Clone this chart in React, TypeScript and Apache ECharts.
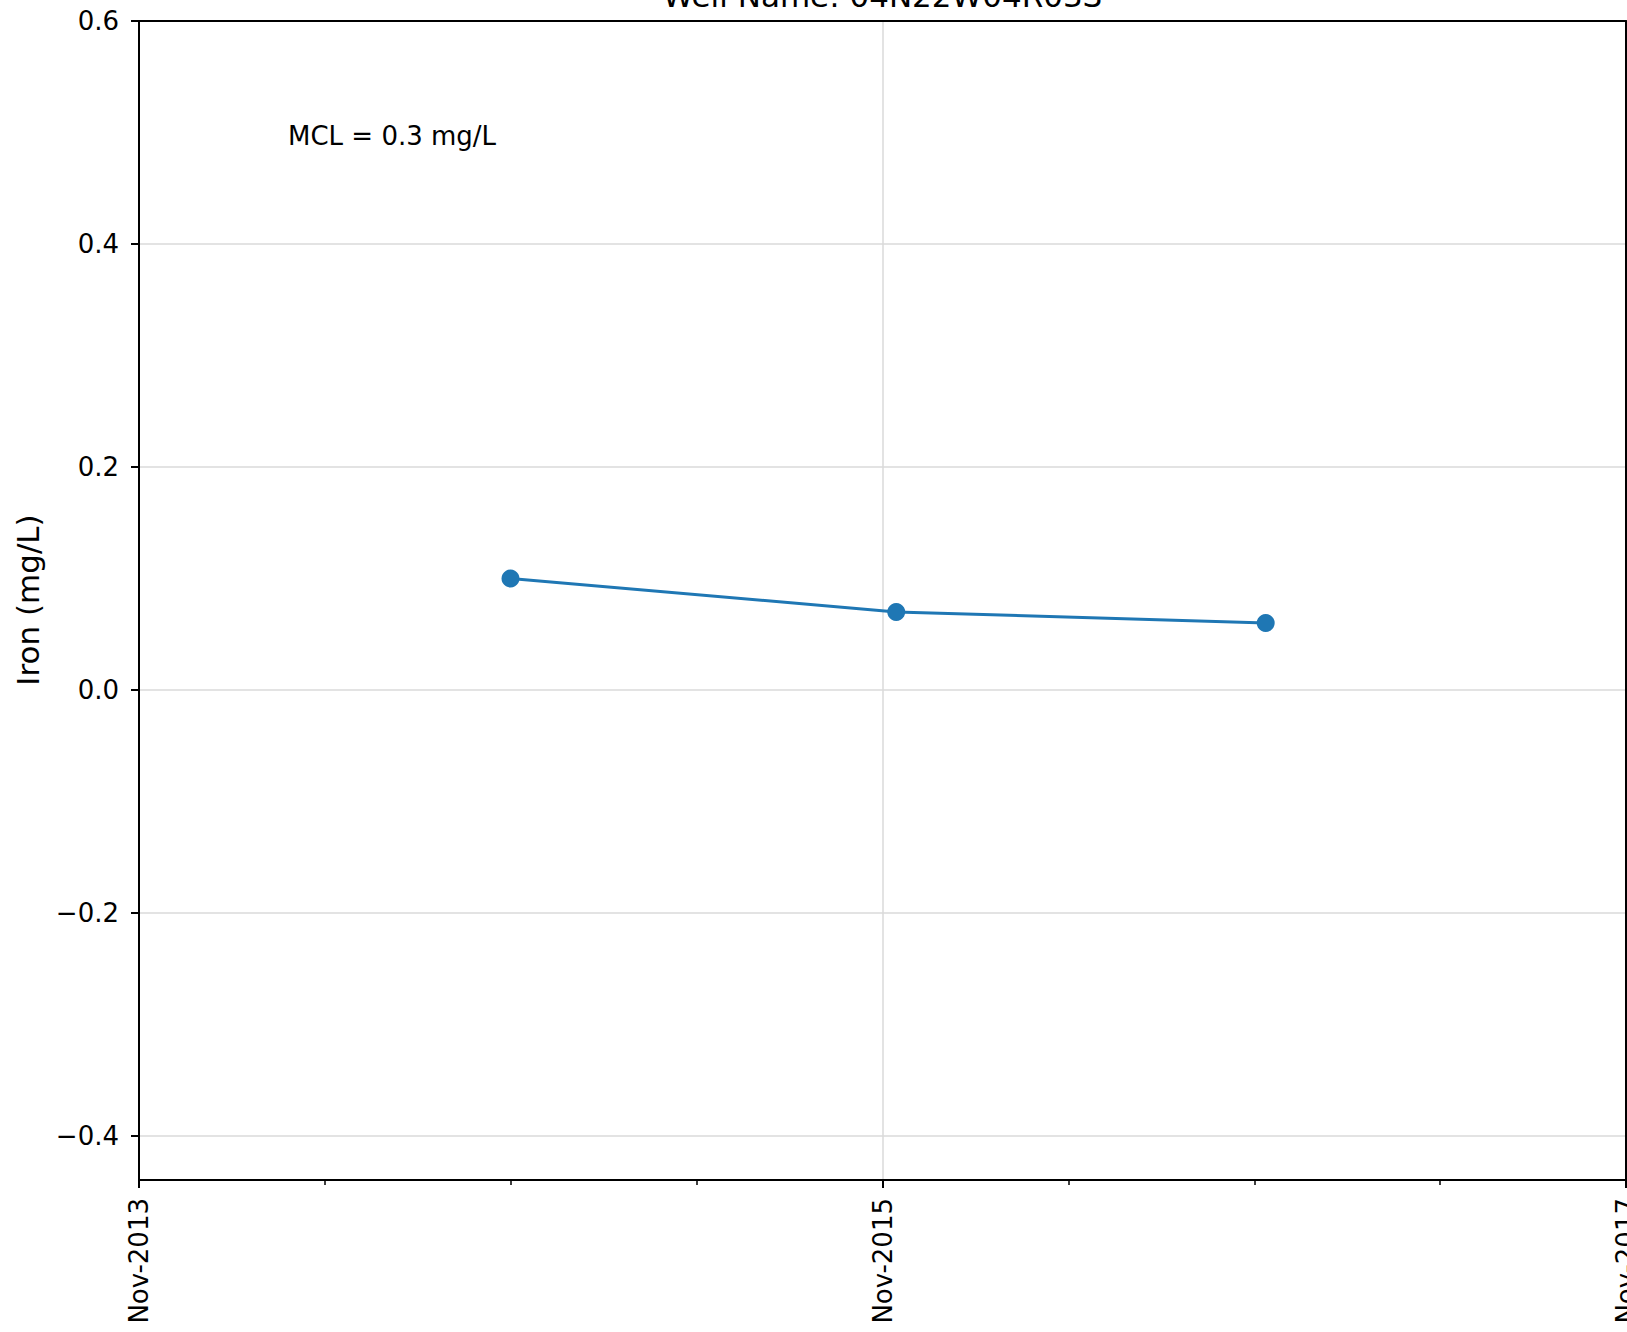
import React, { useEffect, useRef } from "react";
import * as echarts from "echarts";

const TITLE = "Well Name: 04N22W04R03S";
const Y_LABEL = "Iron (mg/L)";
const MCL_TEXT = "MCL = 0.3 mg/L";

const sampleDates = ["2014-11-01", "2015-11-15", "2016-11-12"];
const ironValues = [0.1, 0.07, 0.06];

const xStartDate = "2013-11-01";
const xEndDate = "2017-11-01";
const yTickMin = -0.4;
const yTickMax = 0.6;
const yTickStep = 0.2;
const yAxisMin = -0.4395;
const yAxisMax = 0.6;

const MONTHS = ["Jan", "Feb", "Mar", "Apr", "May", "Jun", "Jul", "Aug", "Sep", "Oct", "Nov", "Dec"];
const DAY = 86400000;
const FONT = "DejaVu Sans";

function toMs(s: string) {
  const [y, m, d] = s.split("-").map(Number);
  return Date.UTC(y, m - 1, d);
}
const origin = toMs(xStartDate);
const xMaxDays = (toMs(xEndDate) - origin) / DAY;

export default function App() {
  const ref = useRef<HTMLDivElement>(null);
  useEffect(() => {
    if (!ref.current) return;
    const chart = echarts.init(ref.current, undefined, { renderer: "svg" });
    const data = sampleDates.map((d, i) => [(toMs(d) - origin) / DAY, ironValues[i]]);
    const gridL = 139, gridR = 1, gridT = 21, gridB = 152;
    const labelGridH = 1115;
    const black = "#000";
    const gridColor = "#dadada";
    const spine = { show: true, onZero: false, lineStyle: { color: black, width: 2 } };
    chart.setOption({
      animation: false,
      backgroundColor: "#fff",
      textStyle: { fontFamily: FONT },
      grid: [
        { left: gridL, right: gridR, top: gridT, bottom: gridB, containLabel: false, outerBoundsMode: "none" },
        { left: gridL, right: gridR, top: gridT, height: labelGridH, containLabel: false, outerBoundsMode: "none" },
      ],
      xAxis: [
        {
          type: "value",
          gridIndex: 0,
          min: 0,
          max: xMaxDays,
          interval: xMaxDays / 2,
          axisLine: spine,
          axisTick: { show: true, length: 8, lineStyle: { color: black, width: 2 } },
          minorTick: { show: true, splitNumber: 4, length: 5, lineStyle: { color: black, width: 1.5 } },
          splitLine: { show: true, lineStyle: { color: gridColor, width: 1.5 } },
          axisLabel: {
            rotate: 90,
            margin: 18,
            fontSize: 26,
            color: black,
            fontFamily: FONT,
            showMinLabel: true,
            showMaxLabel: true,
            hideOverlap: false,
            formatter: (v: number) => {
              const dt = new Date(origin + v * DAY);
              return MONTHS[dt.getUTCMonth()] + "-" + dt.getUTCFullYear();
            },
          },
          z: 1,
        },
        {
          type: "value",
          gridIndex: 0,
          position: "top",
          min: 0,
          max: 1,
          axisLine: spine,
          axisTick: { show: false },
          axisLabel: { show: false },
          splitLine: { show: false },
          z: 6,
        },
        {
          type: "value",
          gridIndex: 1,
          show: false,
          min: 0,
          max: 1,
        },
      ],
      yAxis: [
        {
          type: "value",
          gridIndex: 0,
          min: yAxisMin,
          max: yAxisMax,
          axisLine: spine,
          axisTick: { show: false },
          axisLabel: { show: false },
          splitLine: { show: false },
          z: 6,
        },
        {
          type: "value",
          gridIndex: 0,
          position: "right",
          min: 0,
          max: 1,
          axisLine: spine,
          axisTick: { show: false },
          axisLabel: { show: false },
          splitLine: { show: false },
          z: 6,
        },
        {
          type: "value",
          gridIndex: 1,
          min: yTickMin,
          max: yTickMax,
          interval: yTickStep,
          axisLine: { show: false, onZero: false },
          axisTick: { show: true, length: 8, lineStyle: { color: black, width: 2 } },
          splitLine: { show: true, lineStyle: { color: gridColor, width: 1.5 } },
          axisLabel: {
            margin: 20,
            fontSize: 26,
            color: black,
            fontFamily: FONT,
            formatter: (v: number) => {
              const r = Math.round(v * 10) / 10;
              if (Math.abs(r) < 1e-9) return "0.0";
              return (r < 0 ? "\u2212" : "") + Math.abs(r).toFixed(1);
            },
          },
          z: 1,
        },
      ],
      graphic: [
        {
          type: "text",
          x: 882.5,
          y: -4,
          style: {
            text: TITLE,
            font: `31px '${FONT}'`,
            fill: black,
            textAlign: "center",
            textVerticalAlign: "middle",
          },
        },
        {
          type: "text",
          x: 28,
          y: 600,
          rotation: Math.PI / 2,
          style: {
            text: Y_LABEL,
            font: `31px '${FONT}'`,
            fill: black,
            textAlign: "center",
            textVerticalAlign: "middle",
          },
        },
        {
          type: "text",
          x: 288,
          y: 136,
          style: {
            text: MCL_TEXT,
            font: `26px '${FONT}'`,
            fill: black,
            textAlign: "left",
            textVerticalAlign: "middle",
          },
        },
      ],
      series: [
        {
          type: "line",
          xAxisIndex: 0,
          yAxisIndex: 0,
          data,
          symbol: "circle",
          symbolSize: 18,
          showSymbol: true,
          lineStyle: { color: "#1f77b4", width: 3 },
          itemStyle: { color: "#1f77b4" },
          z: 3,
        },
      ],
    });
    return () => chart.dispose();
  }, []);
  return (
    <div
      ref={ref}
      style={{ position: "absolute", left: 0, top: 0, width: 1627, height: 1332 }}
    />
  );
}
